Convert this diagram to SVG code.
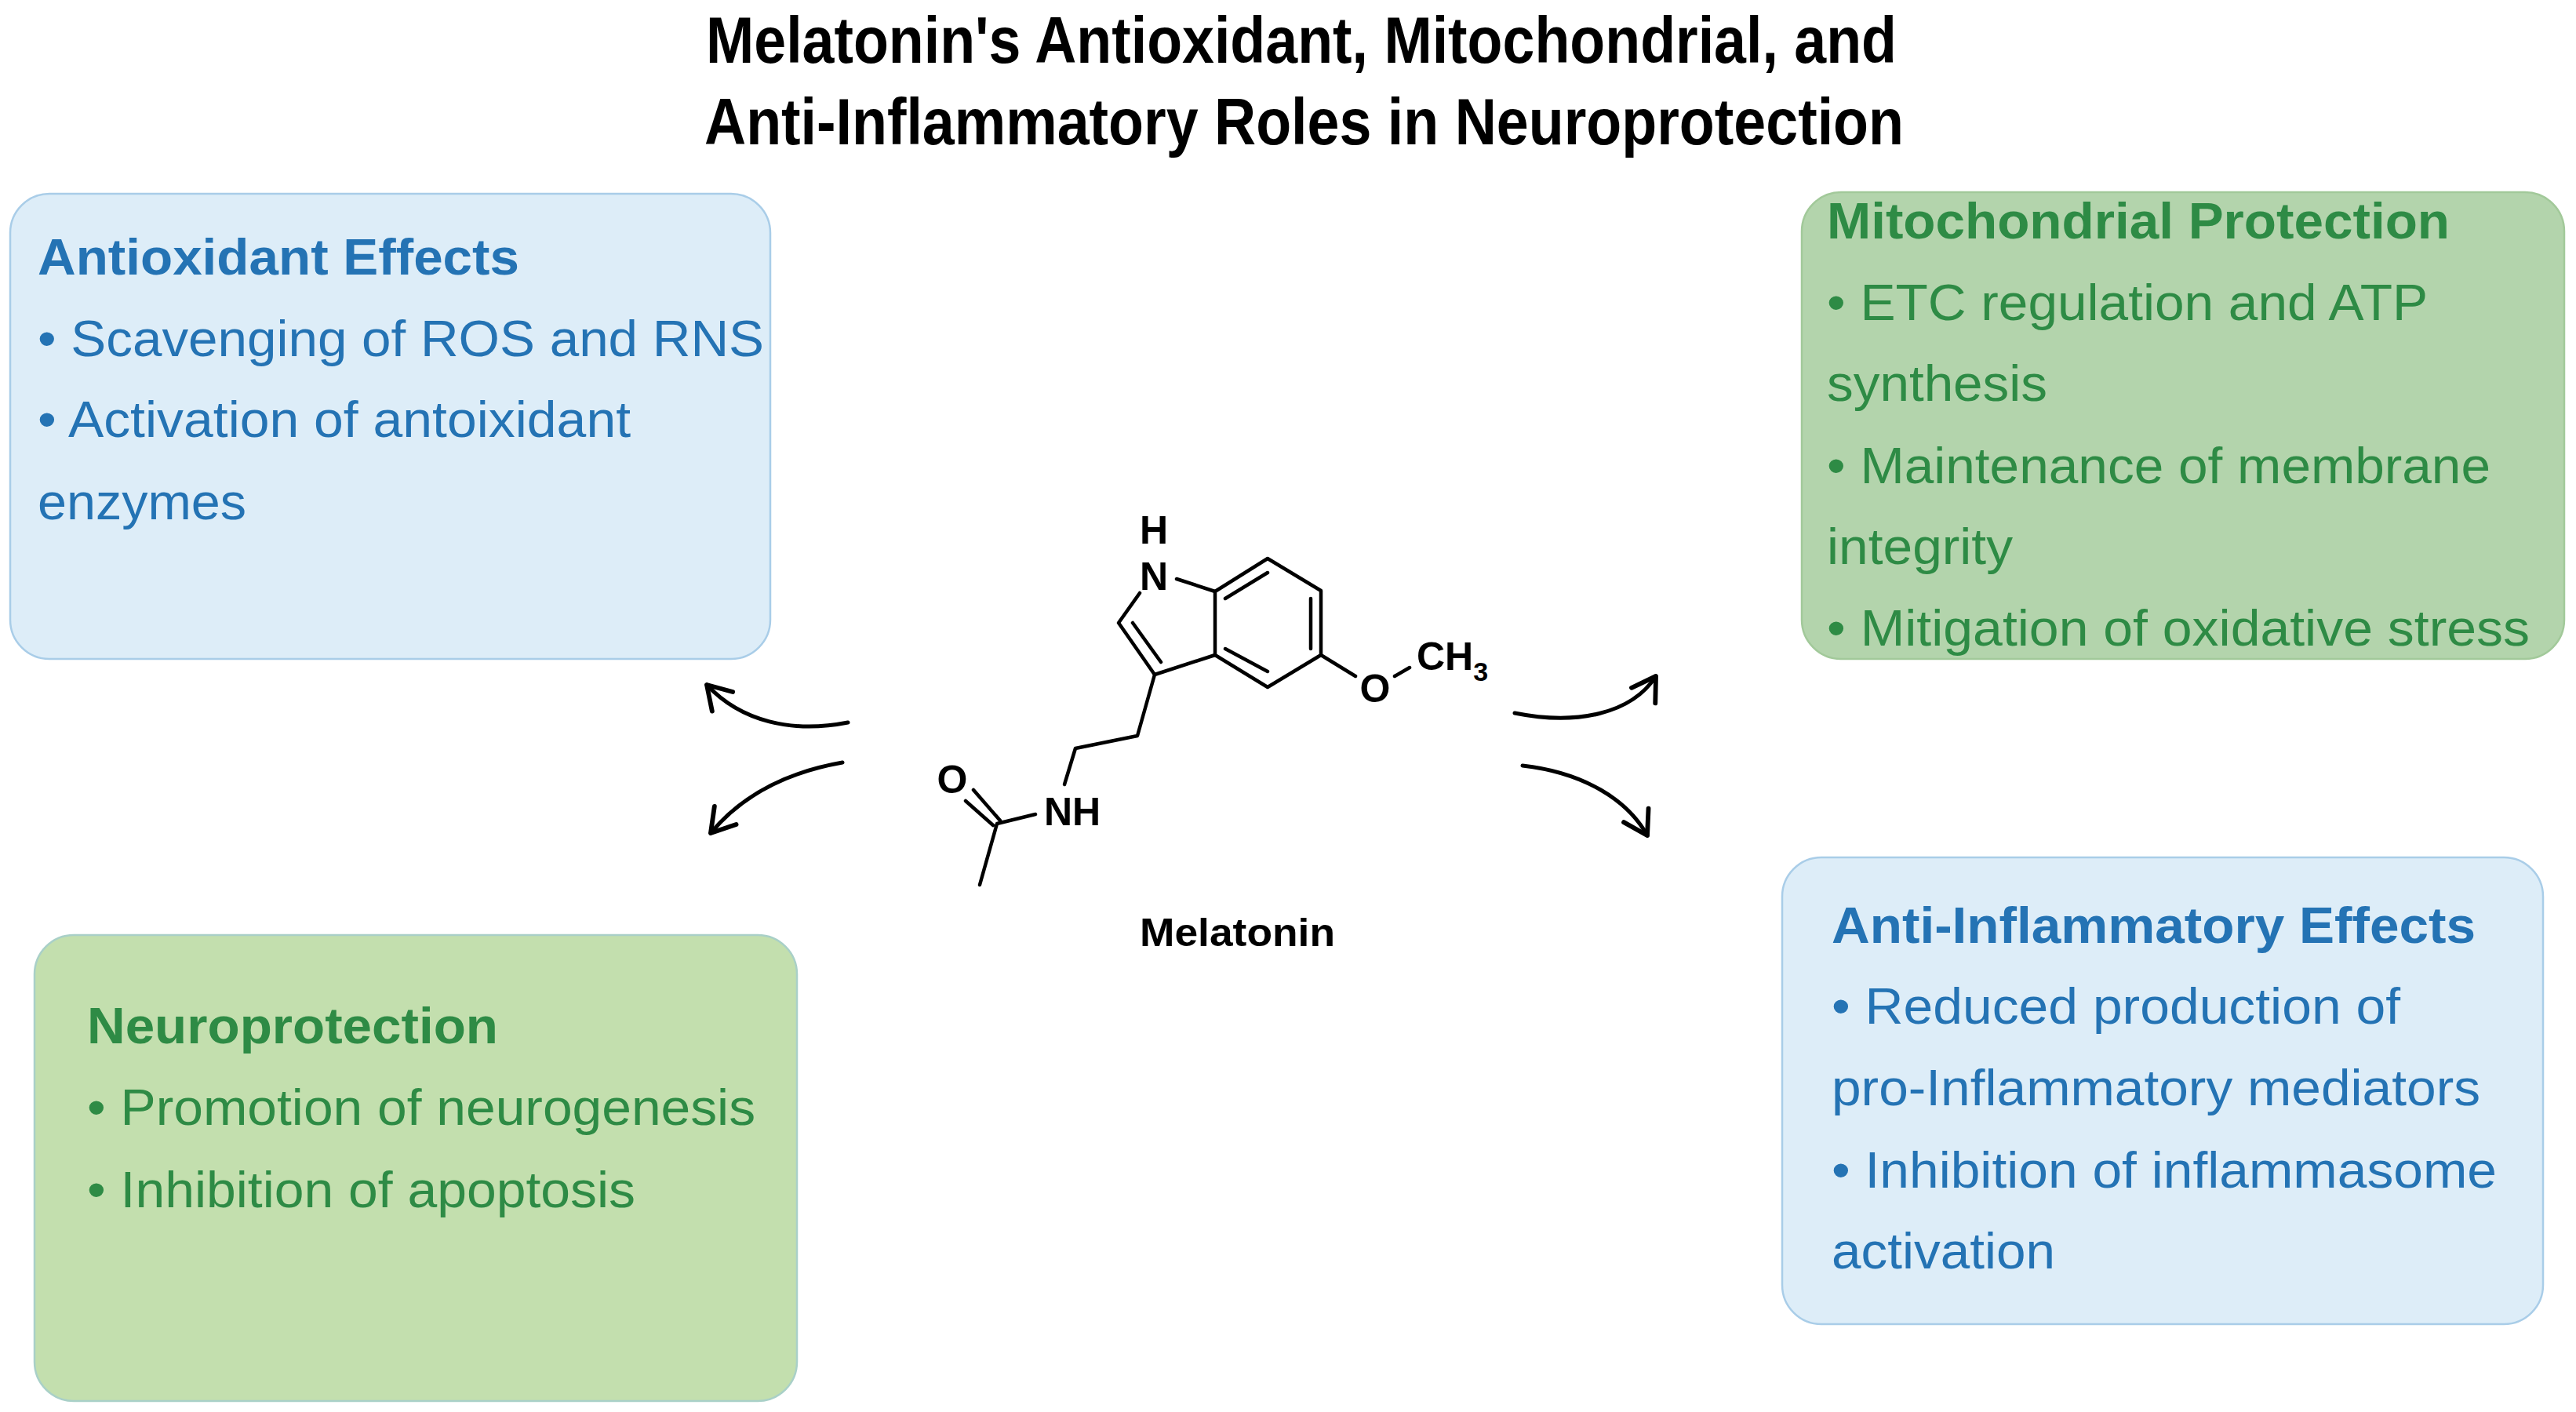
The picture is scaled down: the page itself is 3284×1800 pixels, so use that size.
<svg xmlns="http://www.w3.org/2000/svg" width="3284" height="1800" viewBox="0 0 3284 1800">
<defs>
<marker id="ah" viewBox="0 0 20 20" refX="16" refY="10" markerWidth="9" markerHeight="9" orient="auto" markerUnits="strokeWidth">
<path d="M3,2 L16,10 L3,18" fill="none" stroke="#000" stroke-width="2.6" stroke-linecap="round" stroke-linejoin="round"/>
</marker>
</defs>
<style>
.box{stroke-width:2.5}
.blue{fill:#ddedf8;stroke:#a9cde8}
.mito{fill:#b3d4ac;stroke:#a2c99a}
.neuro{fill:#c3dfae;stroke:#a9d0c8}
.t{font-family:"Liberation Sans",Arial,sans-serif;font-size:64px}
.h{font-weight:bold}
.bt{fill:#2473b4}
.gt{fill:#2e8b45}
.title{font-family:"Liberation Sans Narrow","Liberation Sans",Arial,sans-serif;font-weight:bold;font-size:84px;fill:#000}
.bond{stroke:#000;stroke-width:4.5;fill:none;stroke-linecap:round;stroke-linejoin:round}
.atom{font-family:"Liberation Sans Narrow","Liberation Sans",Arial,sans-serif;font-weight:bold;font-size:50px;fill:#000}
.conn{stroke:#000;stroke-width:5;fill:none;stroke-linecap:round}
</style>
<rect width="3284" height="1800" fill="#fff"/>
<g id="title">
<text class="title" x="900" y="80" textLength="1518" lengthAdjust="spacingAndGlyphs">Melatonin's Antioxidant, Mitochondrial, and</text>
<text class="title" x="898" y="184" textLength="1529" lengthAdjust="spacingAndGlyphs">Anti-Inflammatory Roles in Neuroprotection</text>
</g>
<g id="antioxidant">
<rect class="box blue" x="13" y="247" width="969" height="593" rx="50"/>
<text class="t h bt" x="48" y="350" textLength="614" lengthAdjust="spacingAndGlyphs">Antioxidant Effects</text>
<text class="t bt" x="48" y="454" textLength="926" lengthAdjust="spacingAndGlyphs">• Scavenging of ROS and RNS</text>
<text class="t bt" x="48" y="557" textLength="756" lengthAdjust="spacingAndGlyphs">• Activation of antoixidant</text>
<text class="t bt" x="48" y="662" textLength="266" lengthAdjust="spacingAndGlyphs">enzymes</text>
</g>
<g id="mitochondrial">
<rect class="box mito" x="2297" y="245" width="972" height="595" rx="50"/>
<text class="t h gt" x="2329" y="304" textLength="794" lengthAdjust="spacingAndGlyphs">Mitochondrial Protection</text>
<text class="t gt" x="2329" y="408" textLength="766" lengthAdjust="spacingAndGlyphs">• ETC regulation and ATP</text>
<text class="t gt" x="2329" y="511" textLength="281" lengthAdjust="spacingAndGlyphs">synthesis</text>
<text class="t gt" x="2329" y="616" textLength="846" lengthAdjust="spacingAndGlyphs">• Maintenance of membrane</text>
<text class="t gt" x="2329" y="719" textLength="237" lengthAdjust="spacingAndGlyphs">integrity</text>
<text class="t gt" x="2329" y="823" textLength="896" lengthAdjust="spacingAndGlyphs">• Mitigation of oxidative stress</text>
</g>
<g id="neuroprotection">
<rect class="box neuro" x="44" y="1192" width="972" height="594" rx="50"/>
<text class="t h gt" x="111" y="1330" textLength="524" lengthAdjust="spacingAndGlyphs">Neuroprotection</text>
<text class="t gt" x="111" y="1434" textLength="852" lengthAdjust="spacingAndGlyphs">• Promotion of neurogenesis</text>
<text class="t gt" x="111" y="1539" textLength="699" lengthAdjust="spacingAndGlyphs">• Inhibition of apoptosis</text>
</g>
<g id="antiinflammatory">
<rect class="box blue" x="2272" y="1093" width="970" height="595" rx="50"/>
<text class="t h bt" x="2335" y="1202" textLength="821" lengthAdjust="spacingAndGlyphs">Anti-Inflammatory Effects</text>
<text class="t bt" x="2335" y="1305" textLength="725" lengthAdjust="spacingAndGlyphs">• Reduced production of</text>
<text class="t bt" x="2335" y="1409" textLength="827" lengthAdjust="spacingAndGlyphs">pro-Inflammatory mediators</text>
<text class="t bt" x="2335" y="1514" textLength="848" lengthAdjust="spacingAndGlyphs">• Inhibition of inflammasome</text>
<text class="t bt" x="2335" y="1617" textLength="285" lengthAdjust="spacingAndGlyphs">activation</text>
</g>
<g id="melatonin">
<path class="bond" d="M1500,738 L1549,754"/>
<path class="bond" d="M1549,754 L1616,712 L1684,753 L1684,835 L1616,876 L1549,835 Z"/>
<path class="bond" d="M1562,763 L1616,730 M1671,763 L1671,827 M1562,827 L1616,856"/>
<path class="bond" d="M1549,835 L1472,860 L1426,794 L1453,756 M1444,794 L1480,844"/>
<path class="bond" d="M1684,835 L1728,862 M1778,862 L1797,851"/>
<path class="bond" d="M1472,860 L1450,938 L1371,954 L1357,1000"/>
<path class="bond" d="M1320,1038 L1271,1050 L1249,1128 M1241,1007 L1275,1046 M1231,1021 L1266,1052"/>
<text class="atom" x="1471" y="693" text-anchor="middle">H</text>
<text class="atom" x="1471" y="752" text-anchor="middle">N</text>
<text class="atom" x="1753" y="895" text-anchor="middle">O</text>
<text class="atom" x="1806" y="854">CH<tspan font-size="34" dy="14">3</tspan></text>
<text class="atom" x="1331" y="1052">NH</text>
<text class="atom" x="1214" y="1011" text-anchor="middle">O</text>
<text class="atom" x="1453" y="1206" textLength="249" lengthAdjust="spacingAndGlyphs">Melatonin</text>
</g>
<g id="connectors">
<path class="conn" marker-end="url(#ah)" d="M1081,921 C1010,935 945,920 901,873"/>
<path class="conn" marker-end="url(#ah)" d="M1074,972 C1000,985 945,1015 906,1062"/>
<path class="conn" marker-end="url(#ah)" d="M1931,909 C2010,925 2080,910 2111,862"/>
<path class="conn" marker-end="url(#ah)" d="M1941,976 C2020,985 2075,1020 2100,1065"/>
</g>
</svg>
